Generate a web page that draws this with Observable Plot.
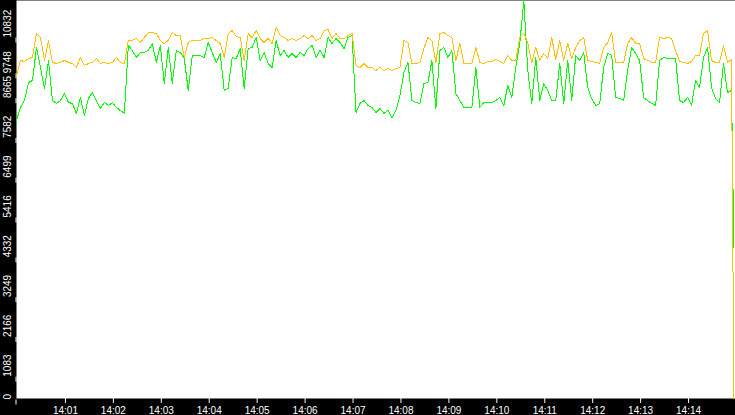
<!DOCTYPE html>
<html>
<head>
<meta charset="utf-8">
<script src="https://cdn.jsdelivr.net/npm/d3@7"></script>
<script src="https://cdn.jsdelivr.net/npm/@observablehq/plot@0.6"></script>
<style>
  html, body { margin: 0; padding: 0; background: black; }
</style>
</head>
<body>
<div id="chart"></div>
<script>
// ---- data ----
const startIso = "2024-01-01T14:00:00Z";
const endIso = "2024-01-01T14:15:00Z";
const sampleSeconds = 5;
const lastSampleSecond = 898;

const greenValues = [
  7566, 7920, 8110, 8600, 8655, 9553, 9009, 8437, 9199, 8110,
  8029, 8110, 8301, 8056, 8029, 7757, 8192, 7702, 8165, 8328,
  8110, 7893, 8056, 7974, 8056, 7920, 7838, 7757, 9607, 9471,
  9281, 9417, 9417, 9471, 9662, 9145, 9607, 8573, 9553, 8573,
  9471, 9417, 9253, 8383, 9335, 9335, 9335, 9281, 9689, 9417,
  9145, 9390, 8383, 8437, 9281, 9253, 9526, 8437, 9526, 9553,
  9825, 9199, 9417, 9117, 9009, 9743, 9335, 9471, 9281, 9390,
  9281, 9417, 9335, 9526, 9607, 9281, 9471, 9281, 9825, 9662,
  9798, 9689, 9526, 9825, 9879, 7784, 8029, 8110, 7974, 7920,
  7784, 7893, 7757, 7838, 7648, 7838, 8246, 8872, 9145, 8110,
  8056, 8029, 8573, 8600, 9199, 7893, 9471, 9553, 9281, 9471,
  8301, 8110, 7920, 7920, 7920, 9009, 7920, 8056, 8056, 8056,
  8110, 8192, 7974, 8519, 8192, 9009, 9662, 10832, 8927, 8029,
  9281, 8110, 8573, 8383, 8110, 8110, 9117, 8029, 9199, 8110,
  9335, 9199, 9417, 8464, 8165, 7974, 8029, 9009, 9390, 9335,
  8192, 8165, 8110, 8927, 9553, 9390, 9199, 8192, 8110, 8029,
  7974, 9199, 9281, 9253, 9253, 9253, 8110, 8056, 8192, 7974,
  8655, 8464, 9281, 9553, 8464, 8165, 8056, 9117, 8328, 8383,
  4110
];

const orangeValues = [
  8791, 9199, 9172, 9253, 9281, 9934, 9825, 9199, 9743, 9145,
  9117, 9145, 9199, 9145, 9117, 9009, 9281, 9063, 9117, 9145,
  9253, 9117, 9145, 9117, 9145, 9281, 9145, 9117, 9743, 9743,
  9798, 9689, 9825, 9961, 9961, 9934, 9743, 9662, 9743, 9961,
  9879, 9879, 9281, 9689, 9743, 9743, 9743, 9798, 9798, 9825,
  9743, 9662, 9281, 9934, 10015, 9852, 9825, 9199, 9934, 9825,
  10015, 9798, 9689, 9798, 9662, 10097, 9879, 9825, 9743, 9798,
  9743, 9798, 9879, 9798, 9879, 9743, 9798, 10015, 10043, 9798,
  9934, 9798, 9798, 9879, 9934, 9063, 9009, 9117, 9009, 9009,
  8927, 9009, 8927, 8981, 8927, 8981, 9009, 9743, 9689, 9117,
  9117, 9145, 9526, 9825, 9743, 9145, 9934, 9961, 9879, 9825,
  9199, 9662, 9117, 9117, 9117, 9553, 9145, 9117, 9172, 9172,
  9226, 9172, 9117, 9335, 9199, 9199, 9825, 9934, 9689, 9145,
  9553, 9199, 9390, 9253, 9825, 9226, 9743, 9199, 9662, 9253,
  9553, 9743, 9825, 9199, 9172, 9145, 9117, 9553, 9689, 9961,
  9145, 9145, 9145, 9662, 9825, 9662, 9662, 9253, 9199, 9145,
  9145, 9825, 9798, 9825, 9798, 9471, 9172, 9145, 9117, 9172,
  9335, 9335, 9934, 10015, 9199, 9145, 9145, 9607, 9145, 9226,
  0
];

const yTicks = [0, 1083, 2166, 3249, 4332, 5416, 6499, 7582, 8665, 9748, 10832];
const xTickLabels = ["14:01", "14:02", "14:03", "14:04", "14:05", "14:06", "14:07",
                     "14:08", "14:09", "14:10", "14:11", "14:12", "14:13", "14:14"];

// ---- build table ----
const t0 = new Date(startIso).getTime();
function sampleTime(i, n) {
  const sec = i === n - 1 ? lastSampleSecond : i * sampleSeconds;
  return new Date(t0 + sec * 1000);
}
const rows = [];
greenValues.forEach((v, i) => rows.push({series: "green", time: sampleTime(i, greenValues.length), value: v}));
orangeValues.forEach((v, i) => rows.push({series: "orange", time: sampleTime(i, orangeValues.length), value: v}));

const xTicks = xTickLabels.map(s => new Date(`2024-01-01T${s}:00Z`));

const font = "Liberation Sans, Arial, sans-serif";
const yMid = yTicks.slice(1, 9);
const yAxisOpts = {tickSize: 5, tickPadding: 1, rotate: -90, textAnchor: "start", lineAnchor: "bottom",
                   tickFormat: d => String(d), label: null, stroke: "white", fill: "white"};

const chart = Plot.plot({
  width: 735,
  height: 415,
  marginTop: 0,
  marginRight: 0,
  marginBottom: 17,
  marginLeft: 16,
  style: {background: "black", color: "white", fontFamily: font, fontSize: "10px"},
  x: {type: "utc", domain: [new Date(startIso), new Date(endIso)], label: null},
  y: {domain: [0, 10832], label: null},
  marks: [
    Plot.frame({fill: "white", stroke: null}),
    Plot.axisX({ticks: xTicks, tickSize: 5, tickPadding: 3, dx: 1,
                tickFormat: d3.utcFormat("%H:%M"), label: null, stroke: "white", fill: "white"}),
    Plot.axisY({...yAxisOpts, ticks: yMid, dy: 18}),
    Plot.axisY({...yAxisOpts, ticks: [yTicks[0]], dy: 1}),
    Plot.axisY({...yAxisOpts, ticks: [yTicks[9]], dy: 33}),
    Plot.axisY({...yAxisOpts, ticks: [yTicks[10]], dy: 37}),
    Plot.line(rows.filter(d => d.series === "green"), {
      x: "time", y: "value", stroke: "#00ff00", strokeWidth: 1, shapeRendering: "crispEdges"
    }),
    Plot.line(rows.filter(d => d.series === "orange"), {
      x: "time", y: "value", stroke: "#ffc000", strokeWidth: 1, shapeRendering: "crispEdges"
    })
  ]
});
document.getElementById("chart").appendChild(chart);
</script>
</body>
</html>
